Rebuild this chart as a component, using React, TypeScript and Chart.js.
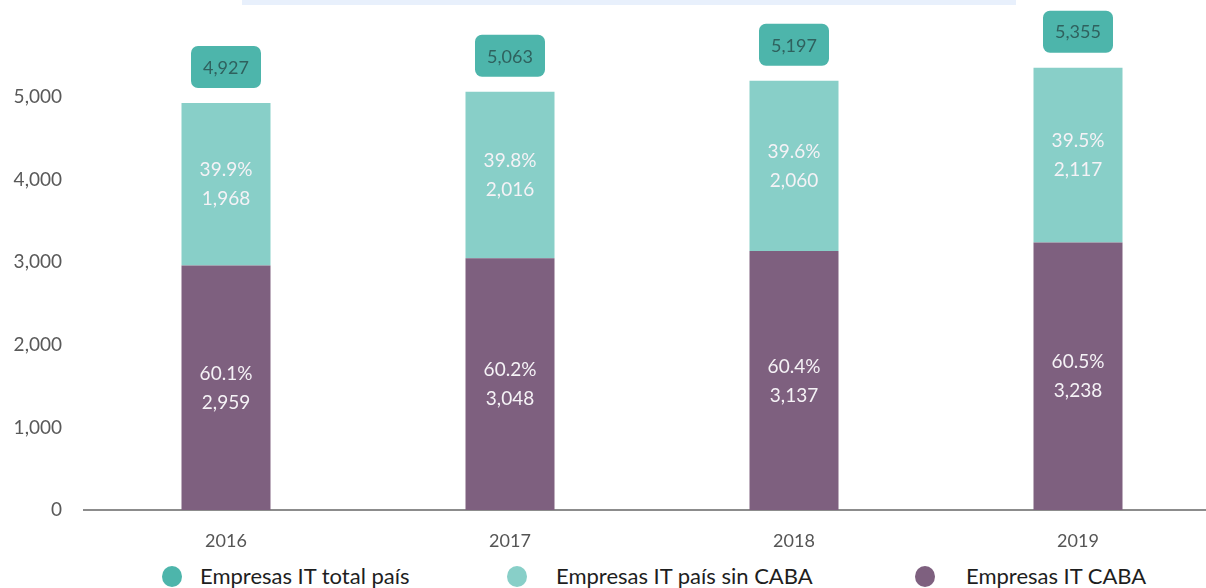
import React, { useEffect, useRef } from "react";
import { Chart, registerables } from "chart.js";

Chart.register(...registerables);

const years = ["2016", "2017", "2018", "2019"];
const caba = [2959, 3048, 3137, 3238];
const sinCaba = [1968, 2016, 2060, 2117];
const totalPais = [4927, 5063, 5197, 5355];
const pctCaba = ["60.1%", "60.2%", "60.4%", "60.5%"];
const pctSinCaba = ["39.9%", "39.8%", "39.6%", "39.5%"];
const yTicks = [0, 1000, 2000, 3000, 4000, 5000];

const legendItems = [
  { label: "Empresas IT total país", color: "#4db5ab" },
  { label: "Empresas IT país sin CABA", color: "#88cfc8" },
  { label: "Empresas IT CABA", color: "#7e607f" },
];
const legendDotCenters = [172, 517, 925];
const legendTextLefts = [200, 556, 966];

const fmt = (v: number) => v.toLocaleString("en-US");

const labelsPlugin = {
  id: "segLabels",
  afterDatasetsDraw(chart: any) {
    const ctx = chart.ctx;
    const yScale = chart.scales.y;
    ctx.save();
    ctx.font = "19px Lato";
    ctx.textAlign = "center";
    ctx.textBaseline = "middle";
    const pctSets = [pctCaba, pctSinCaba];
    const valSets = [caba, sinCaba];
    [0, 1].forEach((di) => {
      const meta = chart.getDatasetMeta(di);
      meta.data.forEach((bar: any, i: number) => {
        const { x, y, base } = bar.getProps(["x", "y", "base"], true);
        const cy = (y + base) / 2;
        ctx.fillStyle = "#f5f2f6";
        ctx.fillText(pctSets[di][i], x, cy - 14);
        ctx.fillText(fmt(valSets[di][i]), x, cy + 15);
      });
    });
    const meta0 = chart.getDatasetMeta(0);
    meta0.data.forEach((bar: any, i: number) => {
      const x = bar.x;
      const top = yScale.getPixelForValue(totalPais[i]);
      const w = 70;
      const h = 42;
      const bx = x - w / 2;
      const by = top - 15 - h;
      ctx.fillStyle = "#4db5ab";
      ctx.beginPath();
      (ctx as any).roundRect(bx, by, w, h, 7);
      ctx.fill();
      ctx.fillStyle = "#2f615e";
      ctx.font = "18px Lato";
      ctx.fillText(fmt(totalPais[i]), x, by + h / 2 + 1);
    });
    ctx.restore();
  },
};

export default function App() {
  const ref = useRef<HTMLCanvasElement>(null);
  useEffect(() => {
    document.body.style.margin = "0";
    const canvas = ref.current!;
    const chart = new Chart(canvas, {
      type: "bar",
      data: {
        labels: years,
        datasets: [
          {
            label: "Empresas IT CABA",
            data: caba,
            backgroundColor: "#7e607f",
            barPercentage: 89 / 284,
            categoryPercentage: 1,
          },
          {
            label: "Empresas IT país sin CABA",
            data: sinCaba,
            backgroundColor: "#88cfc8",
            barPercentage: 89 / 284,
            categoryPercentage: 1,
          },
        ],
      },
      options: {
        responsive: false,
        animation: false,
        layout: { padding: { top: 0, right: 0, bottom: 0, left: 0 } },
        plugins: {
          legend: { display: false },
          tooltip: { enabled: false },
        },
        scales: {
          x: {
            stacked: true,
            grid: { display: false, drawTicks: false },
            border: { display: true, color: "#8c8c8c", width: 2 },
            ticks: {
              color: "#555555",
              font: { family: "Lato", size: 18 },
              padding: 20,
            },
            afterFit: (s: any) => {
              s.height = 50;
            },
          },
          y: {
            stacked: true,
            min: 0,
            max: 6000,
            afterBuildTicks: (s: any) => {
              s.ticks = yTicks.map((v) => ({ value: v }));
            },
            grid: { display: false, drawTicks: false },
            border: { display: false },
            ticks: {
              color: "#595959",
              font: { family: "Lato", size: 19 },
              padding: 22,
              callback: (v: any) => fmt(Number(v)),
            },
            afterFit: (s: any) => {
              s.width = 84;
            },
          },
        },
      },
      plugins: [labelsPlugin],
    });
    return () => chart.destroy();
  }, []);

  return (
    <div
      style={{
        position: "absolute",
        left: 0,
        top: 0,
        width: 1206,
        height: 588,
        overflow: "hidden",
        background: "#ffffff",
      }}
    >
      <canvas
        ref={ref}
        width={1220}
        height={579}
        style={{ position: "absolute", left: 0, top: -19, width: 1220, height: 579 }}
      />
      <div
        style={{
          position: "absolute",
          left: 242,
          top: 0,
          width: 774,
          height: 5,
          background: "#e8f0fc",
        }}
      />
      {legendItems.map((it, i) => (
        <React.Fragment key={it.label}>
          <span
            style={{
              position: "absolute",
              left: legendDotCenters[i] - 10,
              top: 566,
              width: 20,
              height: 21,
              borderRadius: "50%",
              background: it.color,
            }}
          />
          <span
            style={{
              position: "absolute",
              left: legendTextLefts[i],
              top: 562,
              lineHeight: "28px",
              fontFamily: "Lato",
              fontSize: 22,
              color: "#1e1e1e",
              whiteSpace: "nowrap",
            }}
          >
            {it.label}
          </span>
        </React.Fragment>
      ))}
    </div>
  );
}
